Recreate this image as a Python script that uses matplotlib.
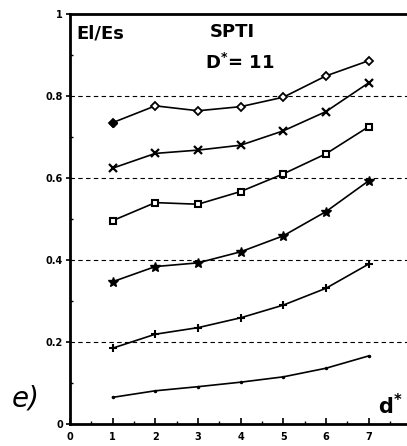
import matplotlib
matplotlib.use("Agg")
import matplotlib.pyplot as plt
from matplotlib.ticker import MultipleLocator

x = [1, 2, 3, 4, 5, 6, 7]
s_diamond = [0.735, 0.776, 0.764, 0.774, 0.797, 0.849, 0.886]
s_cross = [0.624, 0.660, 0.668, 0.680, 0.715, 0.762, 0.832]
s_square = [0.496, 0.540, 0.536, 0.567, 0.610, 0.659, 0.725]
s_star = [0.347, 0.384, 0.393, 0.420, 0.459, 0.518, 0.593]
s_plus = [0.185, 0.219, 0.235, 0.259, 0.290, 0.331, 0.390]
s_dot = [0.065, 0.081, 0.091, 0.102, 0.115, 0.136, 0.166]
xticks = [0, 1, 2, 3, 4, 5, 6, 7]
yticks = [0, 0.2, 0.4, 0.6, 0.8, 1]
ytick_labels = ["0", "0.2", "0.4", "0.6", "0.8", "1"]
grid_levels = [0.2, 0.4, 0.6, 0.8]

plt.rcParams['font.family'] = ['DejaVu Sans']
plt.rcParams['mathtext.fontset'] = 'dejavusans'

fig = plt.figure(figsize=(4.07, 4.46), dpi=100)
ax = fig.add_axes([70/407, 22/446, 337/407, 410/446])

for g in grid_levels:
    ax.axhline(g, color='black', lw=0.8, ls=(0, (4, 3)), zorder=1)

lk = dict(color='black', lw=1.2, zorder=3)
ax.plot(x, s_diamond, marker='D', ms=4.5, mfc='white', mec='black', mew=1.3, **lk)
ax.plot(x[:1], s_diamond[:1], marker='D', ms=4.5, color='black', ls='none', zorder=4)
ax.plot(x, s_cross, marker='x', ms=5.5, mew=1.6, **lk)
ax.plot(x, s_square, marker='s', ms=5, mfc='white', mec='black', mew=1.5, **lk)
ax.plot(x, s_star, marker='*', ms=7.5, **lk)
ax.plot(x, s_plus, marker='+', ms=6, mew=1.5, **lk)
ax.plot(x, s_dot, marker='.', ms=3, **lk)

ax.set_xlim(0, 7.9)
ax.set_ylim(0, 1)
ax.set_xticks(xticks)
ax.set_xticklabels([str(v) for v in xticks], fontweight='bold', fontsize=7)
ax.set_yticks(yticks)
ax.set_yticklabels(ytick_labels, fontweight='bold', fontsize=7)
ax.xaxis.set_minor_locator(MultipleLocator(0.5))
ax.yaxis.set_minor_locator(MultipleLocator(0.1))
ax.tick_params(axis='x', which='major', direction='in', length=4, width=1.2, pad=6)
ax.tick_params(axis='x', which='minor', direction='in', length=2, width=1)
ax.tick_params(axis='y', which='major', direction='out', length=3, width=1.2, pad=2)
ax.tick_params(axis='y', which='minor', direction='in', length=2, width=1)

ax.spines['right'].set_visible(False)
for sp in ['left', 'bottom', 'top']:
    ax.spines[sp].set_linewidth(2)

ax.text(0.16, 0.975, "El/Es", fontsize=13, fontweight='bold', va='top', ha='left')
ax.text(3.28, 0.978, "SPTI", fontsize=13, fontweight='bold', va='top', ha='left')
ax.text(3.16, 0.905, r"D$^{\mathbf{*}}$= 11", fontsize=13, fontweight='bold', va='top', ha='left')
ax.text(7.21, 0.015, r"d$^{\mathbf{*}}$", fontsize=15, fontweight='bold', va='bottom', ha='left')
fig.text(12/407, 1 - 398/446, "e)", fontsize=20, fontstyle='italic', va='center', ha='left')

fig.savefig("out.png", dpi=100)
